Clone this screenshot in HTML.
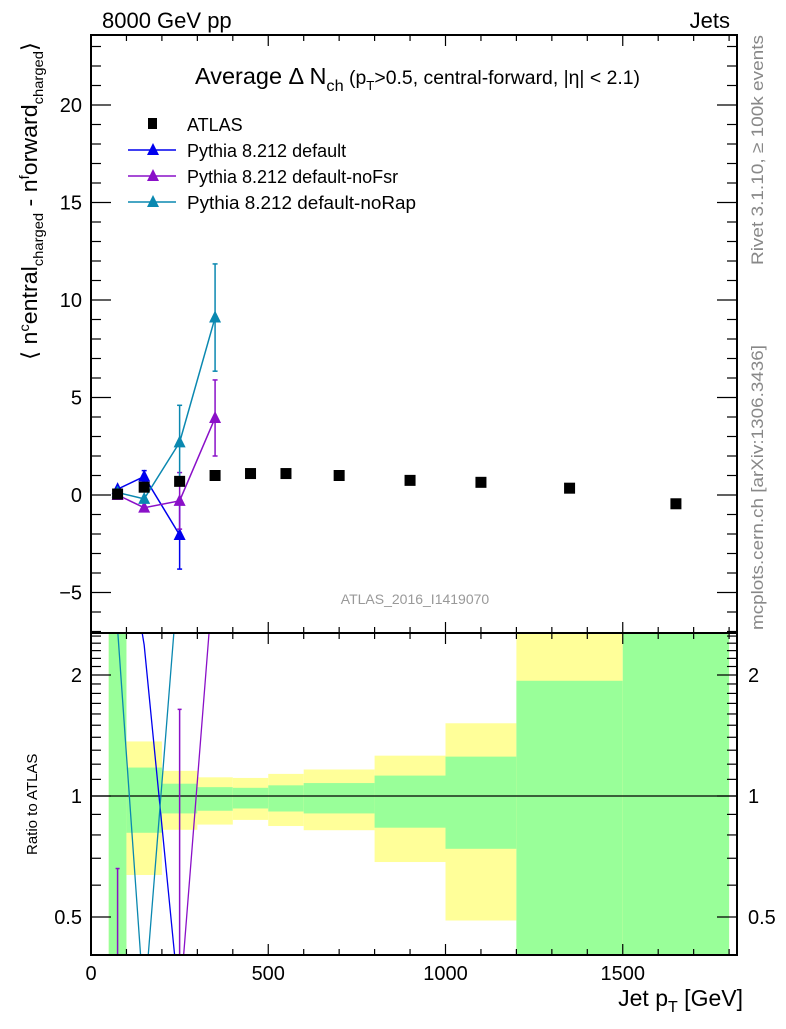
<!DOCTYPE html>
<html><head><meta charset="utf-8">
<style>
html,body{margin:0;padding:0;background:#fff;}
svg text{font-family:"Liberation Sans",sans-serif;}
</style></head>
<body>
<svg id="chart" width="786" height="1024" viewBox="0 0 786 1024" xmlns="http://www.w3.org/2000/svg">
<g id="g"></g>
</svg>
<script>
const binEdges=[50,100,200,300,400,500,600,800,1000,1200,1500,1800];
const dataX=[75,150,250,350,450,550,700,900,1100,1350,1650];
const dataY=[0.05,0.4,0.7,1.0,1.1,1.1,1.0,0.75,0.65,0.35,-0.45];
const statHi=[2.6,1.177,1.073,1.052,1.048,1.063,1.077,1.124,1.253,1.935,2.6];
const statLo=[0.3,0.81,0.905,0.919,0.931,0.915,0.905,0.834,0.739,0.3,0.3];
const totHi=[2.6,1.367,1.155,1.113,1.109,1.135,1.164,1.26,1.517,2.6,2.6];
const totLo=[0.3,0.636,0.824,0.849,0.872,0.842,0.822,0.685,0.49,0.3,0.3];
const mcX=[75,150,250,350];
const defY=[0.3,0.95,-2.05];
const defErr=[0.05,0.3,1.75];
const fsrY=[0.0,-0.65,-0.3,3.95];
const fsrErr=[0.033,0.1,1.45,1.95];
const rapY=[0.13,-0.2,2.7,9.1];
const rapErr=[0.05,0.1,1.9,2.75];
const yTicksMain=[-5,0,5,10,15,20];
const xTicks=[0,500,1000,1500];
const rTicks=[0.5,1,2];

const NS="http://www.w3.org/2000/svg";
const G=document.getElementById('g');
const L=91,R=737,T=35,B=633,RB=955;
const X=v=>L+0.3545*v;
const Y=v=>495-19.5*v;
const RY=v=>796-401.9*Math.log10(v);
function el(t,a,p){const e=document.createElementNS(NS,t);for(const k in a)e.setAttribute(k,a[k]);(p||G).appendChild(e);return e;}
function txt(s,a,p){const e=el('text',a,p);e.textContent=s;return e;}

const defs=el('defs',{});
const c1=el('clipPath',{id:'cm'},defs);el('rect',{x:L,y:T,width:R-L,height:B-T},c1);
const c2=el('clipPath',{id:'cr'},defs);el('rect',{x:L,y:B,width:R-L,height:RB-B},c2);

const rg=el('g',{'clip-path':'url(#cr)'});


for(let i=0;i<dataX.length;i++){
  const x0=X(binEdges[i]),x1=X(binEdges[i+1]);
  const yb=el('rect',{x:x0,y:RY(totHi[i]),width:x1-x0,height:RY(totLo[i])-RY(totHi[i]),fill:'#ffff99'},rg);
  
  
  const gb=el('rect',{x:x0,y:RY(statHi[i]),width:x1-x0,height:RY(statLo[i])-RY(statHi[i]),fill:'#99ff99'},rg);
  
  
}
el('line',{x1:L,x2:R,y1:RY(1),y2:RY(1),stroke:'#000','stroke-width':1.3},rg);

function rv(v){return v<=0?0.3:v;}
const series=[[defY,defErr,'#0000ee','pythia-default'],[fsrY,fsrErr,'#8a10c8','pythia-nofsr'],[rapY,rapErr,'#0a88b0','pythia-norap']];
series.forEach(([ys,es,col,nm])=>{
  const pts=ys.map((v,i)=>X(mcX[i])+','+RY(rv(v/dataY[i]))).join(' ');
  const pl=el('polyline',{points:pts,fill:'none',stroke:col,'stroke-width':1.3},rg);
  
  
});
[0,2].forEach(i=>{
  const hi=(fsrY[i]+fsrErr[i])/dataY[i];
  const lo=(fsrY[i]-fsrErr[i])/dataY[i];
  const x=X(mcX[i]);
  const eb=el('line',{x1:x,x2:x,y1:RY(hi),y2:RY(rv(lo)),stroke:'#8a10c8','stroke-width':1.5},rg);
  
  
  el('line',{x1:x-2,x2:x+2,y1:RY(hi),y2:RY(hi),stroke:'#8a10c8','stroke-width':1.5},rg);
});

const mg=el('g',{'clip-path':'url(#cm)'});
function tri(x,y,col,p){return el('polygon',{points:`${x},${y-7} ${x-6},${y+5} ${x+6},${y+5}`,fill:col},p);}
series.forEach(([ys,es,col,nm])=>{
  const g=el('g',{},mg);
  
  
  const pts=ys.map((v,i)=>X(mcX[i])+','+Y(v)).join(' ');
  el('polyline',{points:pts,fill:'none',stroke:col,'stroke-width':1.5},g);
  ys.forEach((v,i)=>{
    const x=X(mcX[i]);
    if(es[i]>0.25){
      el('line',{x1:x,x2:x,y1:Y(v+es[i]),y2:Y(v-es[i]),stroke:col,'stroke-width':1.5},g);
      el('line',{x1:x-2.5,x2:x+2.5,y1:Y(v+es[i]),y2:Y(v+es[i]),stroke:col,'stroke-width':1.5},g);
      el('line',{x1:x-2.5,x2:x+2.5,y1:Y(v-es[i]),y2:Y(v-es[i]),stroke:col,'stroke-width':1.5},g);
    }
    const m=tri(x,Y(v),col,g);
    
    
  });
});
dataX.forEach((xv,i)=>{
  const r=el('rect',{x:X(xv)-5.5,y:Y(dataY[i])-5.5,width:11,height:11,fill:'#000'},mg);
  
  
});

el('rect',{x:L,y:T,width:R-L,height:B-T,fill:'none',stroke:'#000','stroke-width':2});
el('rect',{x:L,y:B,width:R-L,height:RB-B,fill:'none',stroke:'#000','stroke-width':2});

for(let v=0;v<=1800;v+=100){
  const maj=v%500===0,len=maj?11:6,x=X(v);
  [[T,1],[B,-1],[B,1],[RB,-1]].forEach(([y,d])=>el('line',{x1:x,x2:x,y1:y,y2:y+d*len,stroke:'#000','stroke-width':1.2}));
}
xTicks.forEach(v=>{
  const t=txt(v,{x:X(v),y:980,'font-size':20,'text-anchor':'middle'});
  
  
});
for(let v=-7;v<=23;v++){
  const maj=v%5===0,len=maj?20:10,y=Y(v);
  el('line',{x1:L,x2:L+len,y1:y,y2:y,stroke:'#000','stroke-width':1.2});
  el('line',{x1:R,x2:R-len,y1:y,y2:y,stroke:'#000','stroke-width':1.2});
}
yTicksMain.forEach(v=>{
  const t=txt(v===-5?'\u22125':v,{x:82,y:Y(v)+7,'font-size':20,'text-anchor':'end'});
  
  
});
const rminor=[0.5,0.6,0.7,0.8,0.9,1,1.1,1.2,1.3,1.4,1.5,1.6,1.7,1.8,1.9,2,2.1,2.2,2.3,2.4,2.5];
rminor.forEach(v=>{
  const maj=rTicks.includes(v),len=maj?20:10,y=RY(v);
  el('line',{x1:L,x2:L+len,y1:y,y2:y,stroke:'#000','stroke-width':1.2});
  el('line',{x1:R,x2:R-len,y1:y,y2:y,stroke:'#000','stroke-width':1.2});
});
rTicks.forEach(v=>{
  const a=txt(v,{x:82,y:RY(v)+7,'font-size':20,'text-anchor':'end'});
  
  
  const b=txt(v,{x:748,y:RY(v)+7,'font-size':20,'text-anchor':'start'});
  
  
});
</script>
<svg width="786" height="1024" style="position:absolute;left:0;top:0" xmlns="http://www.w3.org/2000/svg">
<text x="102" y="28" font-size="22" font-family="Liberation Sans,sans-serif">8000 GeV pp</text>
<text x="730" y="28" font-size="22" text-anchor="end" font-family="Liberation Sans,sans-serif">Jets</text>
<text x="195" y="84" font-size="23" font-family="Liberation Sans,sans-serif" textLength="445" lengthAdjust="spacingAndGlyphs">Average Δ N<tspan font-size="16" dy="7">ch</tspan><tspan dy="-7" font-size="19"> (p</tspan><tspan font-size="13" dy="6">T</tspan><tspan dy="-6" font-size="19">&gt;0.5, central-forward, |η| &lt; 2.1)</tspan></text>
<g font-family="Liberation Sans,sans-serif" font-size="18">
<rect x="148" y="118" width="9" height="11" fill="#000"/>
<text x="187" y="131">ATLAS</text>
<line x1="128" x2="176" y1="150" y2="150" stroke="#0000ee" stroke-width="1.5"/>
<polygon points="153,143 147,155 159,155" fill="#0000ee"/>
<text x="187" y="157">Pythia 8.212 default</text>
<line x1="128" x2="176" y1="176" y2="176" stroke="#8a10c8" stroke-width="1.5"/>
<polygon points="153,169 147,181 159,181" fill="#8a10c8"/>
<text x="187" y="183">Pythia 8.212 default-noFsr</text>
<line x1="128" x2="176" y1="202" y2="202" stroke="#0a88b0" stroke-width="1.5"/>
<polygon points="153,195 147,207 159,207" fill="#0a88b0"/>
<text x="187" y="209" textLength="229" lengthAdjust="spacingAndGlyphs">Pythia 8.212 default-noRap</text>
</g>
<text transform="translate(37,360) rotate(-90)" font-size="22" font-family="Liberation Sans,sans-serif" textLength="318" lengthAdjust="spacingAndGlyphs">⟨ n<tspan dy="-8" font-size="14">c</tspan><tspan dy="8">entral</tspan><tspan dy="6" font-size="14">charged</tspan><tspan dy="-6"> - n</tspan><tspan dy="-8" font-size="14">f</tspan><tspan dy="8">orward</tspan><tspan dy="6" font-size="14">charged</tspan><tspan dy="-6">⟩</tspan></text>
<text transform="translate(37,855) rotate(-90)" font-size="15" font-family="Liberation Sans,sans-serif">Ratio to ATLAS</text>
<text x="743" y="1006" font-size="23" text-anchor="end" font-family="Liberation Sans,sans-serif">Jet p<tspan font-size="16" dy="6">T</tspan><tspan dy="-6"> [GeV]</tspan></text>
<text x="415" y="604" font-size="14" fill="#999" text-anchor="middle" font-family="Liberation Sans,sans-serif">ATLAS_2016_I1419070</text>
<text transform="translate(763,265) rotate(-90)" font-size="17" fill="#888" font-family="Liberation Sans,sans-serif" textLength="230" lengthAdjust="spacingAndGlyphs">Rivet 3.1.10, ≥ 100k events</text>
<text transform="translate(763,630) rotate(-90)" font-size="17" fill="#888" font-family="Liberation Sans,sans-serif" textLength="285" lengthAdjust="spacingAndGlyphs">mcplots.cern.ch [arXiv:1306.3436]</text>
</svg>
</body></html>
